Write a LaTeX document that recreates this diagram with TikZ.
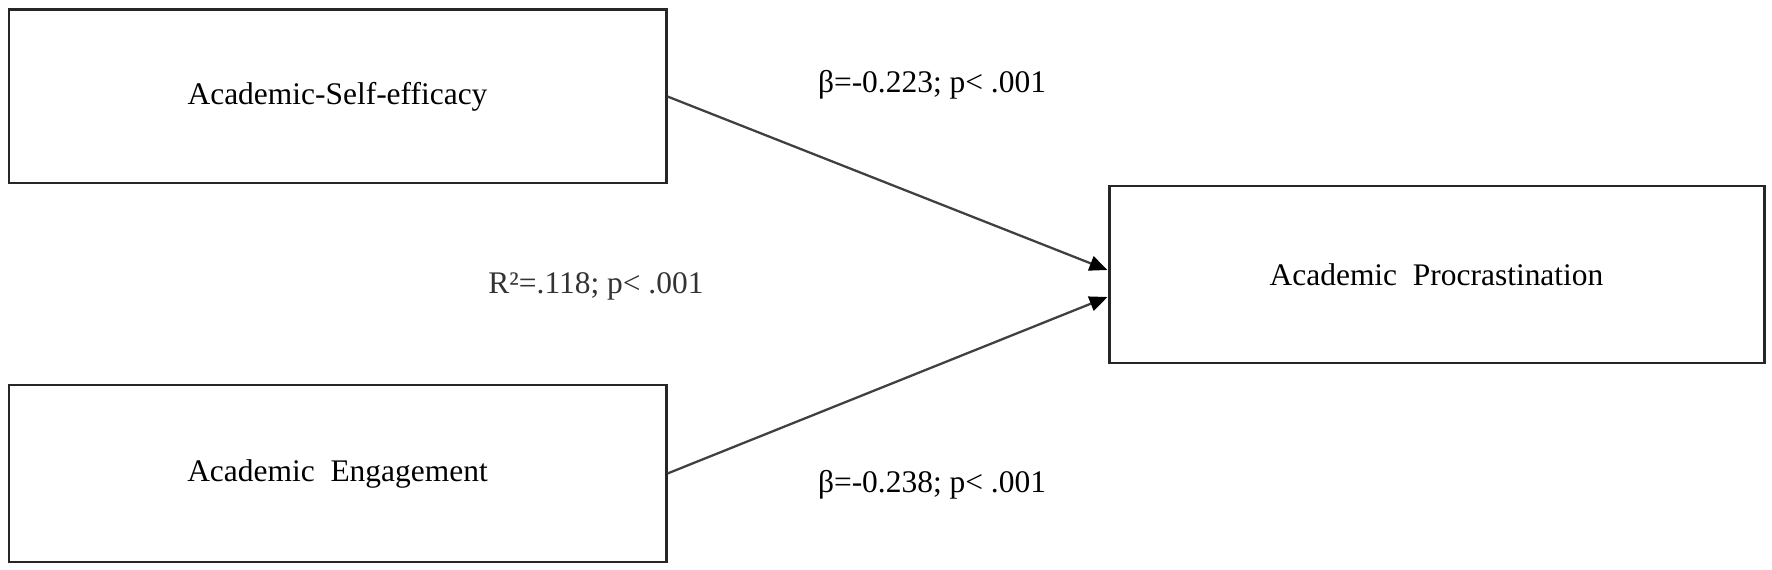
\documentclass[tikz,border=0pt]{standalone}
\usepackage{fontspec}
\setmainfont{Liberation Serif}
\usetikzlibrary{arrows.meta}

\tikzset{
  box/.style={draw=black!85, line width=1.7pt, rectangle, minimum width=13.14cm, minimum height=3.5cm, text centered},
  arrow/.style={draw=black!75, line width=1.3pt, -{Triangle[length=0.36cm,width=0.3cm,fill=black,color=black]}}
}

\begin{document}
\begin{tikzpicture}[font=\fontsize{17.9}{21}\selectfont]

\useasboundingbox (0,0) rectangle (35.44,11.4);

\node (ase) [box, minimum height=3.46cm] at (6.75,9.47) {Academic-Self-efficacy};

\node (eng) [box, below of=ase, node distance=7.54cm, minimum height=3.54cm] {Academic\ \ Engagement};

\node (proc) [box, right of=ase, node distance=21.98cm, yshift=-3.56cm, minimum width=13.1cm, minimum height=3.54cm] {Academic\ \ Procrastination};

\node (beta1) at (18.64,9.7) {β=-0.223; p< .001};
\node (rsq) [text=black!80] at (11.92,5.68) {R²=.118; p< .001};
\node (beta2) at (18.64,1.7) {β=-0.238; p< .001};

\draw[arrow] (ase.east) -- ([yshift=0.09cm]proc.west);
\draw[arrow] (eng.east) -- ([yshift=-0.45cm]proc.west);

\end{tikzpicture}
\end{document}
